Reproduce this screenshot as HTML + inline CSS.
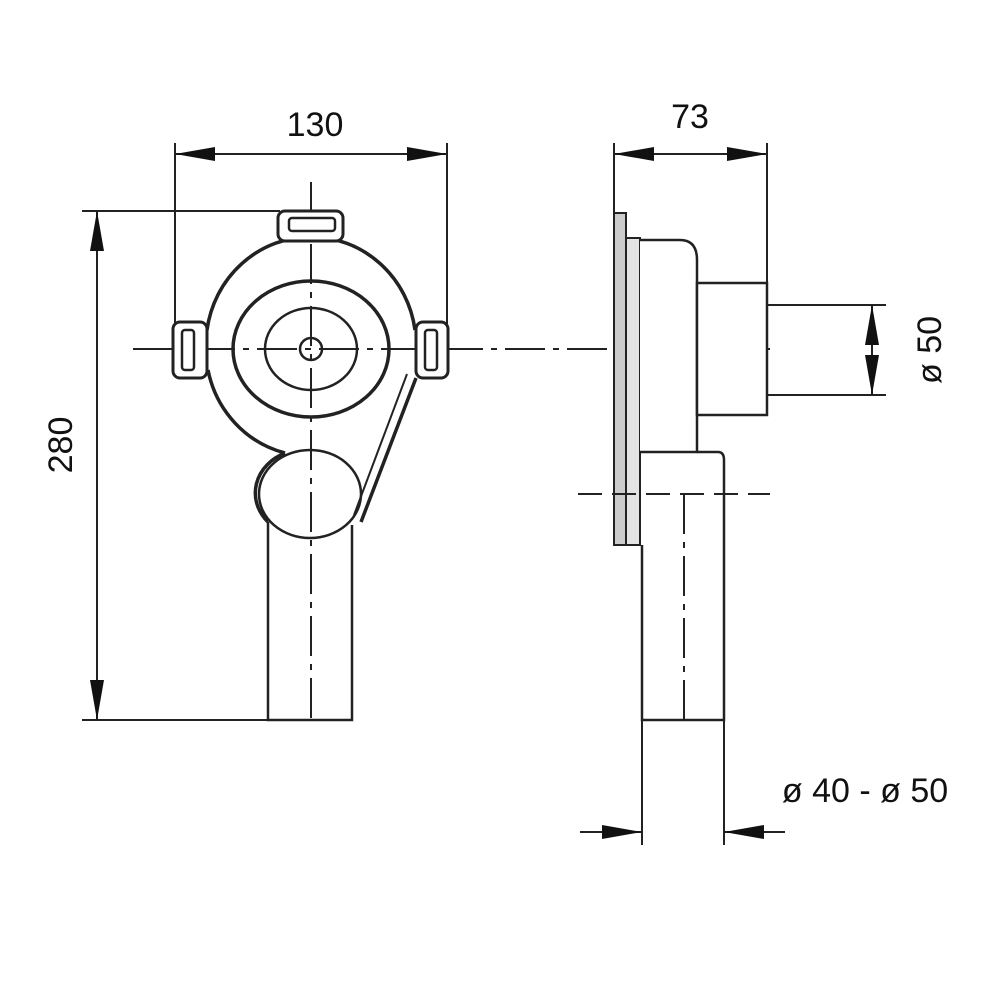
<!DOCTYPE html>
<html><head><meta charset="utf-8"><style>html,body{margin:0;padding:0;background:#fff}svg{display:block}</style></head>
<body>
<svg width="1000" height="1000" viewBox="0 0 1000 1000" xmlns="http://www.w3.org/2000/svg" font-family="Liberation Sans, sans-serif">
<defs>
<marker id="a" viewBox="0 0 40 14" refX="40" refY="7" markerWidth="40" markerHeight="14" markerUnits="userSpaceOnUse" orient="auto-start-reverse"><path d="M0,0 L40,7 L0,14 Z" fill="#111"/></marker>
</defs>
<g stroke="#222" stroke-width="2" fill="none">
<line x1="175" y1="143" x2="175" y2="325"/>
<line x1="447" y1="143" x2="447" y2="325"/>
<line x1="175" y1="154" x2="447" y2="154" marker-start="url(#a)" marker-end="url(#a)"/>
<line x1="82" y1="211" x2="280" y2="211"/>
<line x1="82" y1="720" x2="268" y2="720"/>
<line x1="97" y1="211" x2="97" y2="720" marker-start="url(#a)" marker-end="url(#a)"/>
<line x1="311" y1="182" x2="311" y2="720" stroke-dasharray="40,8,6,8"/>
<line x1="133" y1="349" x2="770" y2="349" stroke-dasharray="40,8,6,8"/>
<g stroke-width="3.5">
<path d="M207,330 A105,108 0 0 1 415,330"/>
<path d="M208,370 A105,108 0 0 0 285,453"/>
<path d="M416,378 L361,522"/>
<path d="M407,374 L354,515" stroke-width="2"/>
<ellipse cx="311" cy="349" rx="78" ry="68"/>
<path d="M285,453 A51,44 0 0 0 268,522"/>
</g>
<ellipse cx="311" cy="349" rx="46" ry="41" stroke-width="2.5"/>
<circle cx="311" cy="349" r="11" stroke-width="2.5"/>
<ellipse cx="310" cy="494" rx="51" ry="44" stroke-width="2.5"/>
<path d="M268,522 L268,720 L352,720 L352,525" stroke-width="2.5"/>
<rect x="278" y="211" width="65" height="30" rx="7" stroke-width="3" fill="#fff"/>
<rect x="289" y="218" width="46" height="13" rx="3" stroke-width="2.5"/>
<rect x="173" y="322" width="34" height="56" rx="7" stroke-width="3" fill="#fff"/>
<rect x="182" y="330" width="12" height="40" rx="3" stroke-width="2.5"/>
<rect x="416" y="322" width="32" height="56" rx="7" stroke-width="3" fill="#fff"/>
<rect x="425" y="330" width="12" height="40" rx="3" stroke-width="2.5"/>
<line x1="614" y1="143" x2="614" y2="213"/>
<line x1="767" y1="143" x2="767" y2="290"/>
<line x1="614" y1="154" x2="767" y2="154" marker-start="url(#a)" marker-end="url(#a)"/>
<rect x="614" y="213" width="12" height="332" fill="#ccc" stroke-width="2"/>
<rect x="626" y="238" width="14" height="307" fill="#e4e4e4" stroke-width="2"/>
<path d="M640,240 L680,240 Q697,240 697,260 L697,452 L640,452" stroke-width="2.5" fill="#fff"/>
<rect x="697" y="283" width="70" height="132" stroke-width="2.5" fill="#fff"/>
<path d="M697,452 L718,452 Q724,452 724,460 L724,720 L642,720 L642,545" stroke-width="2.5"/>
<line x1="642" y1="720" x2="642" y2="845"/>
<line x1="724" y1="720" x2="724" y2="845"/>
<line x1="580" y1="832" x2="642" y2="832" marker-end="url(#a)"/>
<line x1="785" y1="832" x2="724" y2="832" marker-end="url(#a)"/>
<line x1="578" y1="494" x2="770" y2="494" stroke-dasharray="24,10"/>
<line x1="684" y1="494" x2="684" y2="720" stroke-dasharray="40,8,6,8"/>
<line x1="767" y1="305" x2="886" y2="305"/>
<line x1="767" y1="395" x2="886" y2="395"/>
<line x1="872" y1="305" x2="872" y2="395" marker-start="url(#a)" marker-end="url(#a)"/>
</g>
<g fill="#111" font-size="34">
<text x="315" y="136" text-anchor="middle">130</text>
<text x="690" y="128" text-anchor="middle">73</text>
<text x="0" y="0" text-anchor="middle" transform="translate(72,445) rotate(-90)">280</text>
<text x="0" y="0" text-anchor="middle" transform="translate(941,350) rotate(-90)">ø 50</text>
<text x="865" y="802" text-anchor="middle">ø 40 - ø 50</text>
</g>
</svg>
</body></html>
